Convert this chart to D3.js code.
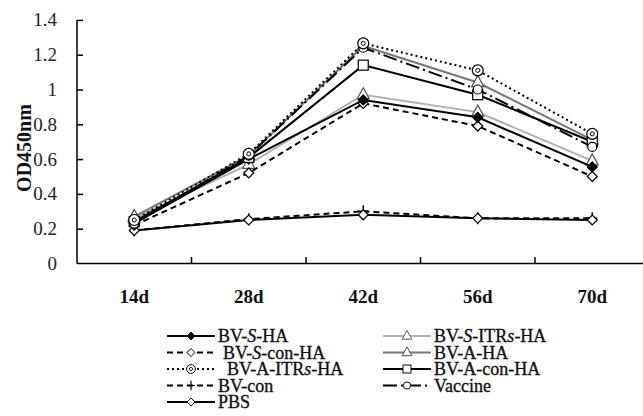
<!DOCTYPE html>
<html><head><meta charset="utf-8">
<script src="https://cdn.jsdelivr.net/npm/d3@7"></script>
<style>body{margin:0;background:#fff}svg{display:block}svg text{font-family:"Liberation Serif","Times New Roman",serif}</style>
</head><body><svg id="c" width="643" height="416"></svg>
<script>
const categories = ["14d","28d","42d","56d","70d"];
const yTicks = [0,0.2,0.4,0.6,0.8,1,1.2,1.4];
const seriesNames = ["BV-S-HA","BV-S-ITRs-HA","BV-S-con-HA","BV-A-HA","BV-A-ITRs-HA","BV-A-con-HA","BV-con","Vaccine","PBS"];
const bvSHA      = [0.23,0.60,0.94,0.84,0.555];
const bvSITRsHA  = [0.26,0.57,0.97,0.87,0.59];
const bvSconHA   = [0.22,0.52,0.92,0.79,0.50];
const bvAHA      = [0.27,0.62,1.25,1.04,0.71];
const bvAITRsHA  = [0.25,0.63,1.265,1.11,0.745];
const bvAconHA   = [0.24,0.61,1.14,0.97,0.70];
const bvCon      = [0.19,0.255,0.30,0.26,0.26];
const vaccine    = [0.23,0.62,1.24,1.00,0.67];
const pbs        = [0.19,0.25,0.28,0.26,0.25];

const FONT = "'Liberation Serif','Times New Roman',serif";
const styles = {
  "BV-S-HA":      {data:bvSHA, color:"#000", dash:null, w:2, marker:"diamond", fill:"#000"},
  "BV-S-ITRs-HA": {data:bvSITRsHA, color:"#b0b0b0", dash:null, w:2, marker:"triangle", fill:"#fff", mstroke:"#555"},
  "BV-S-con-HA":  {data:bvSconHA, color:"#000", dash:"6,4", w:2, marker:"diamond", fill:"#fff"},
  "BV-A-HA":      {data:bvAHA, color:"#777", dash:null, w:2, marker:"triangle", fill:"#fff", mstroke:"#444"},
  "BV-A-ITRs-HA": {data:bvAITRsHA, color:"#000", dash:"2,3", w:2, marker:"circdot", fill:"#fff"},
  "BV-A-con-HA":  {data:bvAconHA, color:"#000", dash:null, w:2, marker:"square", fill:"#fff"},
  "BV-con":       {data:bvCon, color:"#000", dash:"6,4", w:2, marker:"plus", fill:"#fff"},
  "Vaccine":      {data:vaccine, color:"#000", dash:"14,4,2,4", w:2, marker:"circle", fill:"#fff"},
  "PBS":          {data:pbs, color:"#000", dash:null, w:2, marker:"diamond", fill:"#fff"}
};

const svg = d3.select("#c");
const x = d3.scaleBand().domain(categories).range([77,649.5]);
const y = d3.scaleLinear().domain([0,1.4]).range([263.5,19.9]);

// y axis (ticks point inward)
const yAxis = svg.append("g").attr("transform","translate(77,0)")
  .call(d3.axisLeft(y).tickValues(yTicks).tickSize(0).tickPadding(20).tickFormat(d=>String(+d.toFixed(1))));
yAxis.select(".domain").attr("d","M0,"+y(1.4)+"V"+y(0)).attr("stroke","#000").attr("stroke-width",1.5);
yAxis.selectAll(".tick line").attr("x1",0).attr("x2",6).attr("stroke","#000").attr("stroke-width",1.5);
yAxis.selectAll(".tick").filter(d=>d===0).select("line").remove();
yAxis.selectAll("text").attr("font-family",FONT).attr("font-size",19).attr("fill","#222");
yAxis.attr("font-family",null);

// x axis
const xAxis = svg.append("g").attr("transform","translate(0,263.5)")
  .call(d3.axisBottom(x).tickSize(0).tickPadding(26));
xAxis.select(".domain").attr("d","M77,0H643").attr("stroke","#000").attr("stroke-width",1.5);
xAxis.selectAll("text").attr("font-family",FONT).attr("font-size",19).attr("font-weight","bold").attr("fill","#111");
xAxis.attr("font-family",null);
categories.slice(1).forEach(c=>{
  svg.append("line").attr("x1",x(c)).attr("x2",x(c)).attr("y1",263.5).attr("y2",257).attr("stroke","#000").attr("stroke-width",1.5);
});

svg.append("text").attr("transform","translate(31,148) rotate(-90)").attr("text-anchor","middle")
  .attr("font-family",FONT).attr("font-size",20).attr("font-weight","bold").attr("fill","#111").text("OD450nm");

const cx = d => x(d)+x.bandwidth()/2;

function drawMarker(g, type, px, py, st){
  const s = st.mstroke || st.color, f = st.fill;
  if(type==="diamond") g.append("path").attr("d",`M${px},${py-5}L${px+5},${py}L${px},${py+5}L${px-5},${py}Z`).attr("fill",f).attr("stroke",s).attr("stroke-width",1.2);
  else if(type==="triangle") g.append("path").attr("d",`M${px},${py-7}L${px+6},${py+4}L${px-6},${py+4}Z`).attr("fill",f).attr("stroke",s).attr("stroke-width",1.2);
  else if(type==="square") g.append("rect").attr("x",px-5).attr("y",py-5).attr("width",10).attr("height",10).attr("fill",f).attr("stroke",s).attr("stroke-width",1.2);
  else if(type==="circle") g.append("circle").attr("cx",px).attr("cy",py).attr("r",4.5).attr("fill",f).attr("stroke",s).attr("stroke-width",1.2);
  else if(type==="circdot"){ g.append("circle").attr("cx",px).attr("cy",py).attr("r",5.5).attr("fill",f).attr("stroke",s).attr("stroke-width",1.2);
    g.append("circle").attr("cx",px).attr("cy",py).attr("r",2).attr("fill","none").attr("stroke",s).attr("stroke-width",1);}
  else if(type==="plus") g.append("path").attr("d",`M${px-5},${py}H${px+5}M${px},${py-6}V${py+6}`).attr("stroke",s).attr("stroke-width",1.5);
}

const line = d3.line().x((d,i)=>cx(categories[i])).y(d=>y(d));
const order = ["BV-S-ITRs-HA","BV-A-HA","BV-con","PBS","BV-S-con-HA","BV-S-HA","BV-A-con-HA","Vaccine","BV-A-ITRs-HA"];
order.forEach(n=>{
  const st = styles[n];
  const g = svg.append("g");
  g.append("path").attr("d",line(st.data)).attr("fill","none").attr("stroke",st.color)
    .attr("stroke-width",st.w).attr("stroke-dasharray",st.dash);
  st.data.forEach((v,i)=>drawMarker(g, st.marker, cx(categories[i]), y(v), st));
});

// legend
function labelText(t, n){
  const parts = n.split(/(S(?=-)|s(?=-HA))/);
  parts.forEach(p=>{ if(!p) return; const ts=t.append("tspan").text(p); if(p==="S"||p==="s") ts.attr("font-style","italic"); });
}
const leftCol = ["BV-S-HA","BV-S-con-HA","BV-A-ITRs-HA","BV-con","PBS"];
const rightCol = ["BV-S-ITRs-HA","BV-A-HA","BV-A-con-HA","Vaccine"];
const leftDx = [0,5,9,0,0];
const rowY = [336,352.5,369,385.5,402];
function legendCol(names, x0, dxs){
  names.forEach((n,i)=>{
    const st = styles[n]; const ly = rowY[i];
    const g = svg.append("g");
    g.append("line").attr("x1",x0).attr("x2",x0+48).attr("y1",ly).attr("y2",ly)
      .attr("stroke",st.color).attr("stroke-width",st.w).attr("stroke-dasharray",st.dash);
    const mg = g.append("g").attr("transform",`translate(${x0+24},${ly}) scale(0.8)`);
    drawMarker(mg, st.marker, 0, 0, st);
    const t = svg.append("text").attr("x",x0+51+(dxs?dxs[i]:0)).attr("y",ly+6)
      .attr("font-family",FONT).attr("font-size",18).attr("fill","#111")
      .attr("stroke","#111").attr("stroke-width",0.35);
    labelText(t, n);
  });
}
legendCol(leftCol, 167, leftDx);
legendCol(rightCol, 383, null);
</script></body></html>
